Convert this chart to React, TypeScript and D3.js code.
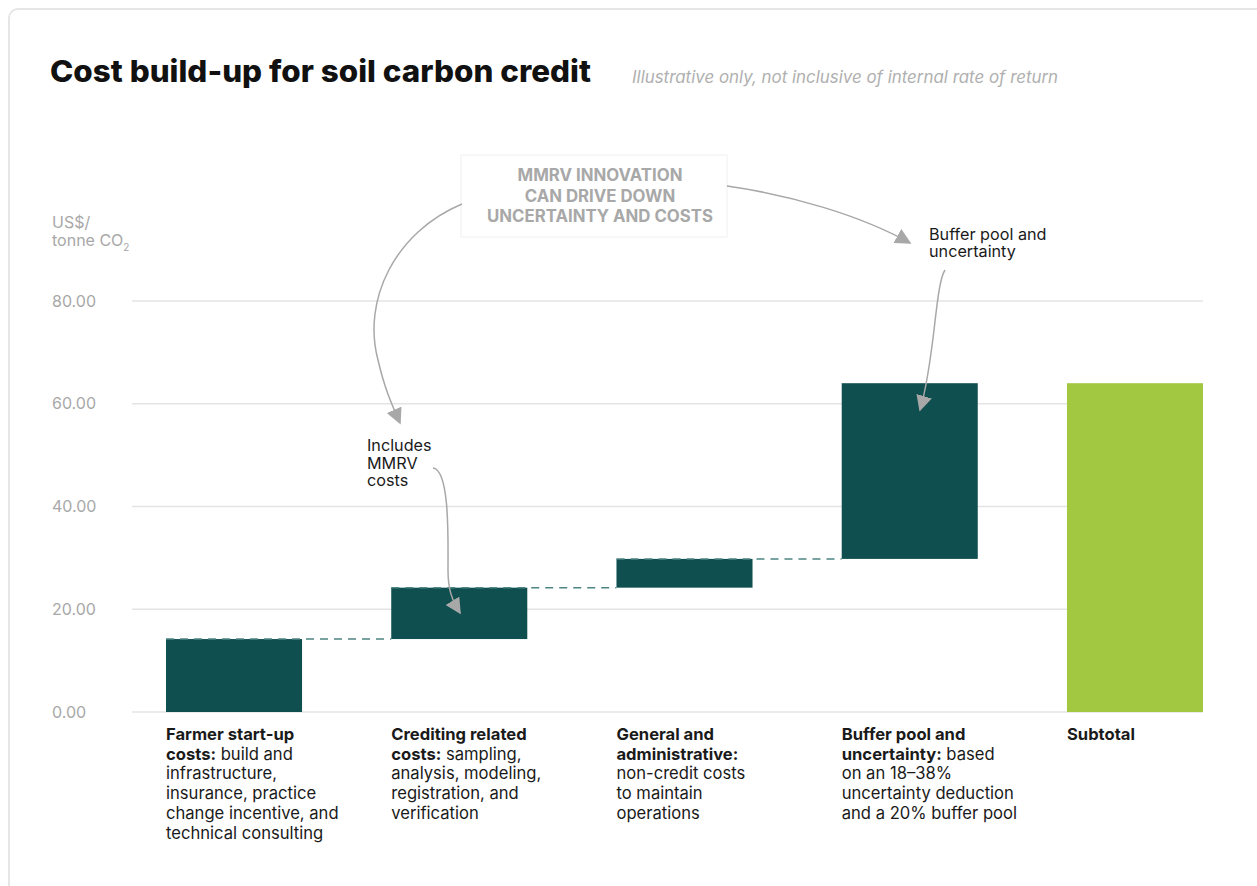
import React from "react";
import * as d3 from "d3";

const categories = ["farmer", "crediting", "general", "buffer", "subtotal"];
const increments = [14.2, 10.0, 5.6, 34.2];
const subtotalValue = 64.0;
const yTicks = [0, 20, 40, 60, 80];

const labelLines: { bold: string[]; normal: string[] }[] = [
  { bold: ["Farmer start-up", "costs:"], normal: [" build and", "infrastructure,", "insurance, practice", "change incentive, and", "technical consulting"] },
  { bold: ["Crediting related", "costs:"], normal: [" sampling,", "analysis, modeling,", "registration, and", "verification"] },
  { bold: ["General and", "administrative:"], normal: ["", "non-credit costs", "to maintain", "operations"] },
  { bold: ["Buffer pool and", "uncertainty:"], normal: [" based", "on an 18\u201338%", "uncertainty deduction", "and a 20% buffer pool"] },
  { bold: ["Subtotal"], normal: [] },
];

const W = 1257;
const H = 886;
const TEAL = "#104f4f";
const GREEN = "#a2c841";
const GRAY = "#a8a8a8";
const FONT = "Inter, 'Noto Sans', sans-serif";

export default function App() {
  const x = d3.scaleBand<string>().domain(categories).range([166, 1203]).paddingInner(0.396).paddingOuter(0);
  const y = d3.scaleLinear().domain([0, 80]).range([712, 301]);

  const bars: { key: string; y0: number; y1: number; color: string }[] = [];
  let cum = 0;
  increments.forEach((v, i) => {
    bars.push({ key: categories[i], y0: cum, y1: cum + v, color: TEAL });
    cum += v;
  });
  bars.push({ key: categories[4], y0: 0, y1: subtotalValue, color: GREEN });

  const connectors = bars.slice(0, 3).map((b, i) => ({
    x1: x(b.key)!,
    x2: x(categories[i + 1])!,
    yv: b.y1,
  }));

  const bw = x.bandwidth();
  const LFS = 16.6;
  const AFS = 16.2;

  return (
    <svg width={W} height={H} style={{ position: "absolute", left: 0, top: 0 }} fontFamily={FONT}>
      <defs>
        <marker id="ah" viewBox="0 0 10 10" refX="9" refY="5" markerWidth="16" markerHeight="16" markerUnits="userSpaceOnUse" orient="auto">
          <path d="M0,0 L10,5 L0,10 z" fill={GRAY} />
        </marker>
      </defs>
      <rect x={0} y={0} width={W} height={H} fill="#fff" />
      <rect x={9} y={9} width={W + 40} height={H + 40} rx={9} fill="#fff" stroke="#e6e6e6" strokeWidth={2} />

      <text x={50} y={82} fontSize={30} fontWeight={800} fill="#111" textLength={541} lengthAdjust="spacingAndGlyphs" fontFamily="Inter, sans-serif">
        Cost build-up for soil carbon credit
      </text>
      <text x={632} y={83} fontSize={16.9} fontStyle="italic" fill="#b0b0b0">
        Illustrative only, not inclusive of internal rate of return
      </text>

      <text x={52} y={228} fontSize={16} fill={GRAY}>US$/</text>
      <text x={52} y={246} fontSize={16} fill={GRAY}>
        tonne CO<tspan fontSize={10} dy={5}>2</tspan>
      </text>

      {yTicks.map((t) => (
        <g key={t}>
          <line x1={132} x2={1203} y1={y(t)} y2={y(t)} stroke="#e4e4e4" strokeWidth={1.5} />
          <text x={52} y={y(t)} dy="0.35em" fontSize={16} fill={GRAY}>
            {t.toFixed(2)}
          </text>
        </g>
      ))}

      {bars.map((b) => (
        <rect key={b.key} x={x(b.key)} y={y(b.y1)} width={bw} height={y(b.y0) - y(b.y1)} fill={b.color} />
      ))}

      {connectors.map((c, i) => (
        <line key={i} x1={c.x1} x2={c.x2} y1={y(c.yv)} y2={y(c.yv)} stroke="#4d8583" strokeWidth={1.5} strokeDasharray="8,6" />
      ))}

      {labelLines.map((l, i) => {
        const lx = x(categories[i])!;
        const lines: React.ReactNode[] = [];
        const lh = 19.7;
        const y0 = 740;
        lines.push(
          <text key="b0" x={lx} y={y0} fontSize={LFS} fill="#1a1a1a">
            <tspan fontWeight={700}>{l.bold[0]}</tspan>
          </text>
        );
        if (l.bold.length > 1) {
          lines.push(
            <text key="b1" x={lx} y={y0 + lh} fontSize={LFS} fill="#1a1a1a">
              <tspan fontWeight={700}>{l.bold[1]}</tspan>
              <tspan>{l.normal[0]}</tspan>
            </text>
          );
          l.normal.slice(1).forEach((n, j) => {
            lines.push(
              <text key={"n" + j} x={lx} y={y0 + lh * (j + 2)} fontSize={LFS} fill="#1a1a1a">
                {n}
              </text>
            );
          });
        }
        return <g key={i}>{lines}</g>;
      })}

      <rect x={461} y={155} width={266} height={82} fill="#fff" stroke="#f0f0f0" strokeWidth={1} />
      {["MMRV INNOVATION", "CAN DRIVE DOWN", "UNCERTAINTY AND COSTS"].map((t, i) => (
        <text key={t} x={600} y={181 + i * 20.5} textAnchor="middle" fontSize={16.8} fontWeight={700} fill={GRAY}>
          {t}
        </text>
      ))}

      <path d="M462,204 C395,232 362,300 378,360 C385,390 392,405 400,423" fill="none" stroke={GRAY} strokeWidth={1.5} markerEnd="url(#ah)" />
      <path d="M727,186 C790,195 860,215 910,243" fill="none" stroke={GRAY} strokeWidth={1.5} markerEnd="url(#ah)" />
      <path d="M945,270 C935,285 935,360 920,410" fill="none" stroke={GRAY} strokeWidth={1.5} markerEnd="url(#ah)" />
      <path d="M433,468 C450,470 448,540 448,570 C448,590 452,600 460,613" fill="none" stroke={GRAY} strokeWidth={1.5} markerEnd="url(#ah)" />

      <text x={929} y={239.5} fontSize={AFS} fill="#1a1a1a">Buffer pool and</text>
      <text x={929} y={257} fontSize={AFS} fill="#1a1a1a">uncertainty</text>

      {["Includes", "MMRV", "costs"].map((t, i) => (
        <text key={t} x={367} y={451 + i * 17.6} fontSize={AFS} fill="#1a1a1a">
          {t}
        </text>
      ))}
    </svg>
  );
}
